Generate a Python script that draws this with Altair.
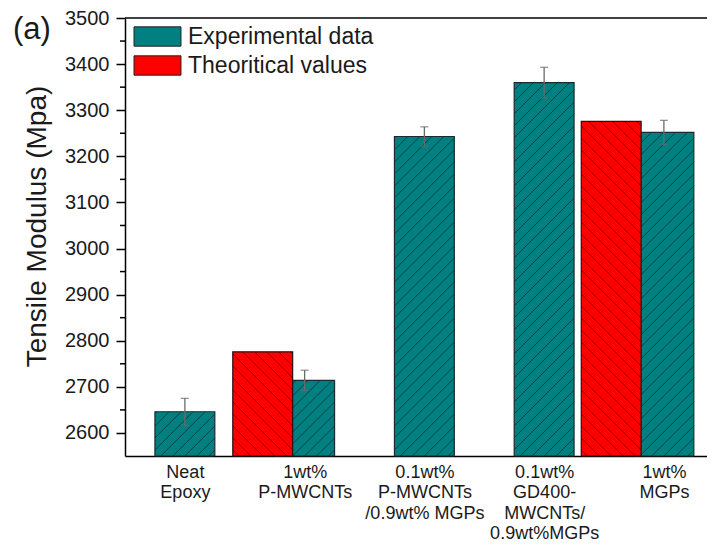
import altair as alt
import pandas as pd

# ---------------- data ----------------
categories = [
    "Neat Epoxy",
    "1wt% P-MWCNTs",
    "0.1wt% P-MWCNTs /0.9wt% MGPs",
    "0.1wt% GD400-MWCNTs/ 0.9wt%MGPs",
    "1wt% MGPs",
]
category_lines = [
    ["Neat", "Epoxy"],
    ["1wt%", "P-MWCNTs"],
    ["0.1wt%", "P-MWCNTs", "/0.9wt% MGPs"],
    ["0.1wt%", "GD400-", "MWCNTs/", "0.9wt%MGPs"],
    ["1wt%", "MGPs"],
]
exp_values = [2646, 2714, 3243, 3360, 3252]
exp_errors = [29, 22, 21, 33, 26]
theory_categories = ["1wt% P-MWCNTs", "1wt% MGPs"]
theory_values = [2776, 3276]
series_names = ["Experimental data", "Theoritical values"]
y_major_ticks = list(range(2600, 3501, 100))
y_minor_ticks = list(range(2650, 3451, 100))

# ---------------- layout / style ----------------
FONT = "Liberation Sans"
TEAL = "#008080"
RED = "#FF0000"
PAD_TOP = 10
W_PLOT, H_PLOT = 582, 438
X_DOMAIN = [0.5, 5.36]
Y_DOMAIN = [2550, 3500]
BAR_HALF = 0.25
THEORY_SHIFT = [-0.35, -0.44]
HATCH_STEP = 12

KX = W_PLOT / (X_DOMAIN[1] - X_DOMAIN[0])
KY = H_PLOT / (Y_DOMAIN[1] - Y_DOMAIN[0])

exp_df = pd.DataFrame({
    "category": categories,
    "pos": [i + 1 for i in range(len(categories))],
    "value": exp_values,
    "err": exp_errors,
    "series": series_names[0],
})
exp_df["lo"] = exp_df["pos"] - BAR_HALF
exp_df["hi"] = exp_df["pos"] + BAR_HALF
exp_df["elo"] = exp_df["value"] - exp_df["err"]
exp_df["ehi"] = exp_df["value"] + exp_df["err"]

th_pos = [categories.index(c) + 1 + s for c, s in zip(theory_categories, THEORY_SHIFT)]
th_df = pd.DataFrame({
    "category": theory_categories,
    "pos": th_pos,
    "value": theory_values,
    "series": series_names[1],
})
th_df["lo"] = th_df["pos"] - BAR_HALF
th_df["hi"] = th_df["pos"] + BAR_HALF


def hatch_rows(centers, values, rising):
    rows = []
    for cx, val in zip(centers, values):
        w = 2 * BAR_HALF * KX
        h = (val - Y_DOMAIN[0]) * KY
        left = cx - BAR_HALF
        if rising:
            c = -w + HATCH_STEP / 2
            while c < h:
                u0 = max(0.0, -c)
                u1 = min(w, h - c)
                if u1 > u0:
                    rows.append({"x": left + u0 / KX, "x2": left + u1 / KX,
                                 "y": Y_DOMAIN[0] + (u0 + c) / KY,
                                 "y2": Y_DOMAIN[0] + (u1 + c) / KY})
                c += HATCH_STEP
        else:
            c = HATCH_STEP / 2
            while c < w + h:
                u0 = max(0.0, c - h)
                u1 = min(w, c)
                if u1 > u0:
                    rows.append({"x": left + u0 / KX, "x2": left + u1 / KX,
                                 "y": Y_DOMAIN[0] + (c - u0) / KY,
                                 "y2": Y_DOMAIN[0] + (c - u1) / KY})
                c += HATCH_STEP
    return pd.DataFrame(rows)


exp_hatch = hatch_rows(exp_df["pos"], exp_df["value"], True)
th_hatch = hatch_rows(th_df["pos"], th_df["value"], False)

label_expr = "[" + ",".join(
    "[" + ",".join("'" + s + "'" for s in lines) + "]" for lines in category_lines
) + "][datum.value - 1]"

x_scale = alt.Scale(domain=X_DOMAIN, nice=False, zero=False)
y_scale = alt.Scale(domain=Y_DOMAIN, nice=False, zero=False)

x_axis = alt.Axis(
    values=[1, 2, 3, 4, 5], labelExpr=label_expr, ticks=False, grid=False,
    title=None, labelFontSize=18, labelLineHeight=20.5, labelPadding=7,
    labelOverlap=False, labelFlush=False, labelColor="#1a1a1a", labelFont=FONT,
    domainColor="#000000", domainWidth=1.5,
)
y_axis = alt.Axis(
    values=y_major_ticks, format="d", tickSize=9,
    tickColor="#000000", tickWidth=1.5, domainColor="#000000", domainWidth=1.5,
    labelFontSize=20, labelPadding=7, labelColor="#1a1a1a", labelFont=FONT,
    grid=False, title="Tensile Modulus (Mpa)", titleFontSize=28,
    titleFontWeight="normal", titleFont=FONT, titleColor="#1a1a1a", titlePadding=13,
    titleY=208,
)

color = alt.Color(
    "series:N",
    scale=alt.Scale(domain=series_names, range=[TEAL, RED]),
    legend=alt.Legend(
        title=None, orient="none", legendX=18, legendY=4,
        symbolType="M-1.7,-0.7H1.7V0.7H-1.7Z", symbolSize=763,
        symbolStrokeColor="#222222", symbolStrokeWidth=1, symbolOpacity=1,
        labelFontSize=23, labelFont=FONT, labelColor="#1a1a1a", labelLimit=400,
        labelOffset=16, rowPadding=2, padding=0,
    ),
)

exp_bars = alt.Chart(exp_df).mark_rect(stroke="#1c2a2a", strokeWidth=1.2).encode(
    x=alt.X("lo:Q", scale=x_scale, axis=x_axis),
    x2="hi:Q",
    y=alt.Y("value:Q", scale=y_scale, axis=y_axis),
    y2=alt.datum(Y_DOMAIN[0]),
    color=color,
)
exp_lines = alt.Chart(exp_hatch).mark_rule(color="#0a2e2e", strokeWidth=1, opacity=0.75).encode(
    x="x:Q", x2="x2:Q", y="y:Q", y2="y2:Q",
)
th_bars = alt.Chart(th_df).mark_rect(stroke="#2a1010", strokeWidth=1.2).encode(
    x="lo:Q", x2="hi:Q", y="value:Q", y2=alt.datum(Y_DOMAIN[0]),
    color=color,
)
th_lines = alt.Chart(th_hatch).mark_rule(color="#4a0000", strokeWidth=1, opacity=0.7).encode(
    x="x:Q", x2="x2:Q", y="y:Q", y2="y2:Q",
)
err_rule = alt.Chart(exp_df).mark_rule(color="#6a6a6a", strokeWidth=1.3).encode(
    x="pos:Q", y="elo:Q", y2="ehi:Q",
)
err_top = alt.Chart(exp_df).mark_tick(orient="horizontal", size=8, thickness=1.3, color="#6a6a6a").encode(
    x="pos:Q", y="ehi:Q",
)
err_bot = alt.Chart(exp_df).mark_tick(orient="horizontal", size=8, thickness=1.3, color="#6a6a6a").encode(
    x="pos:Q", y="elo:Q",
)
minor_ticks = alt.Chart(pd.DataFrame({"v": y_minor_ticks})).mark_rule(
    color="#000000", strokeWidth=1.5
).encode(y="v:Q", x=alt.value(-5), x2=alt.value(0))
frame_top = alt.Chart(pd.DataFrame({"v": [Y_DOMAIN[1]]})).mark_rule(color="#000000", strokeWidth=1.5).encode(
    y="v:Q", x=alt.value(0), x2=alt.value(W_PLOT),
)
panel = alt.Chart(pd.DataFrame({"t": ["(a)"]})).mark_text(
    align="left", baseline="alphabetic", fontSize=31, font=FONT, color="#1a1a1a",
).encode(text="t:N", x=alt.value(-112), y=alt.value(21))

chart = alt.layer(
    exp_bars, exp_lines, th_bars, th_lines, err_rule, err_top, err_bot,
    minor_ticks, frame_top, panel
).properties(
    width=W_PLOT, height=H_PLOT,
    padding={"left": 117, "top": PAD_TOP, "right": 0, "bottom": 537 - PAD_TOP - H_PLOT},
    autosize=alt.AutoSizeParams(type="none"),
    background="white",
).configure_view(stroke=None)

chart.save("out.html", embed_options={"renderer": "svg", "actions": False})
